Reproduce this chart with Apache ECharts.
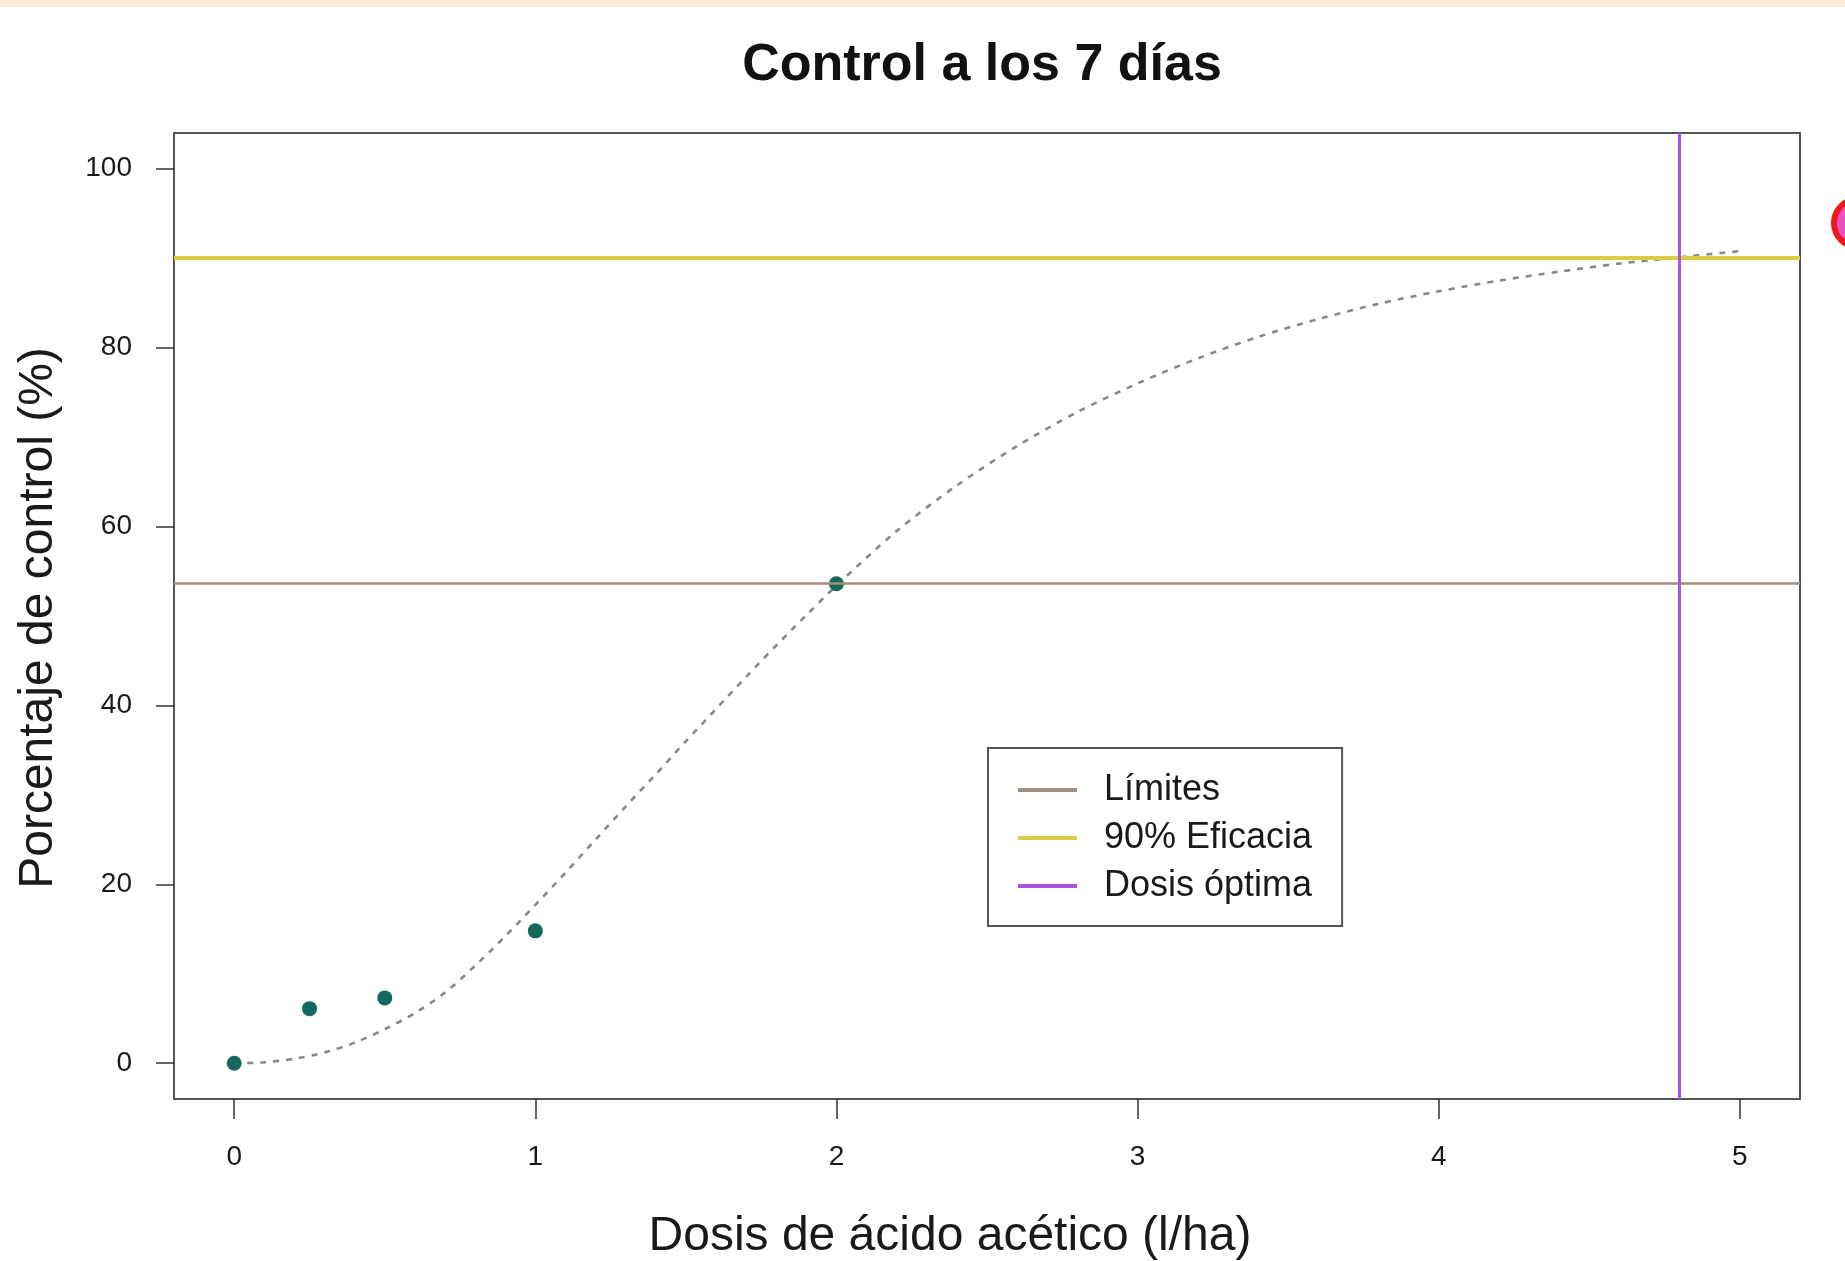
<!DOCTYPE html>
<html>
<head>
<meta charset="utf-8">
<script src="https://cdn.jsdelivr.net/npm/echarts@6/dist/echarts.min.js"></script>
<style>
html,body{margin:0;padding:0;background:#fff;}
#chart{width:1845px;height:1261px;}
</style>
</head>
<body>
<div id="chart"></div>
<script>
// ---- data ----
const obsDose = [0, 0.25, 0.5, 1, 2];
const obsPct = [0, 6.1, 7.3, 14.8, 53.6];

const curveDose = [0, 0.1, 0.2, 0.3, 0.4, 0.5, 0.6, 0.7, 0.8, 0.9, 1.0, 1.1, 1.2, 1.3, 1.4, 1.5, 1.6, 1.7, 1.8, 1.9, 2.0, 2.2, 2.4, 2.6, 2.8, 3.0, 3.2, 3.4, 3.6, 3.8, 4.0, 4.2, 4.4, 4.6, 4.8, 5.0];
const curvePct = [0, 0.1, 0.5, 1.2, 2.3, 3.8, 5.6, 7.9, 10.9, 14.2, 17.7, 21.3, 25.0, 28.7, 32.3, 36.0, 39.6, 43.2, 46.7, 50.1, 53.4, 59.5, 64.6, 69.0, 72.8, 76.0, 78.8, 81.2, 83.2, 84.9, 86.3, 87.5, 88.5, 89.4, 90.1, 90.8];

const limiteValue = 53.7;
const eficaciaValue = 90;
const dosisOptima = 4.8;

const xTicks = [0, 1, 2, 3, 4, 5];
const yTicks = [0, 20, 40, 60, 80, 100];

const legendNames = ['Límites', '90% Eficacia', 'Dosis óptima'];

const titleText = 'Control a los 7 días';
const xTitle = 'Dosis de ácido acético (l/ha)';
const yTitle = 'Porcentaje de control (%)';

// ---- chart ----
const FONT = '"Liberation Sans", Arial, Helvetica, sans-serif';
const chart = echarts.init(document.getElementById('chart'), null, {renderer: 'canvas'});

const curveData = curveDose.map((d, i) => [d, curvePct[i]]);
const obsData = obsDose.map((d, i) => [d, obsPct[i]]);

function refLine(name, color, width, spec) {
  return {
    name: name,
    type: 'line',
    data: [],
    color: color,
    itemStyle: {color: color},
    lineStyle: {color: color, width: width},
    markLine: {
      silent: true,
      symbol: ['none', 'none'],
      label: {show: false},
      animation: false,
      lineStyle: {color: color, width: width, type: 'solid', opacity: 1},
      data: [spec]
    }
  };
}

const option = {
  backgroundColor: '#ffffff',
  animation: false,
  grid: {
    left: 174, top: 133, width: 1626, height: 966,
    show: true, borderColor: '#555555', borderWidth: 2, backgroundColor: 'transparent'
  },
  xAxis: {
    type: 'value', min: -0.2, max: 5.2,
    splitLine: {show: false},
    axisLine: {show: false, onZero: false},
    axisTick: {show: true, inside: false, length: 20, customValues: xTicks, lineStyle: {color: '#333', width: 1.5}},
    axisLabel: {show: true, customValues: xTicks, margin: 44, fontSize: 28, color: '#1a1a1a', fontFamily: FONT},
  },
  yAxis: {
    type: 'value', min: -4, max: 104,
    splitLine: {show: false},
    axisLine: {show: false, onZero: false},
    axisTick: {show: true, inside: false, length: 18, customValues: yTicks, lineStyle: {color: '#333', width: 1.5}},
    axisLabel: {show: true, customValues: yTicks, margin: 42, fontSize: 28, color: '#1a1a1a', fontFamily: FONT},
  },
  legend: {
    data: legendNames,
    orient: 'vertical',
    left: 988, top: 748,
    backgroundColor: '#ffffff',
    borderColor: '#555555', borderWidth: 2,
    padding: [22, 30, 20, 30],
    icon: 'rect',
    itemWidth: 59, itemHeight: 4,
    itemGap: 8,
    selectedMode: false,
    textStyle: {fontSize: 36, lineHeight: 40, color: '#1a1a1a', fontFamily: FONT, padding: [0, 0, 0, 22]}
  },
  series: [
    refLine('Límites', '#a58d7a', 2.5, {yAxis: limiteValue}),
    refLine('90% Eficacia', '#dccb44', 4, {yAxis: eficaciaValue}),
    refLine('Dosis óptima', '#a855e0', 3, {xAxis: dosisOptima}),
    {
      name: 'curve', type: 'line', data: curveData, smooth: 0.3,
      showSymbol: false, z: 3,
      lineStyle: {color: '#848a89', width: 2.6, type: [6, 7]}
    },
    {
      name: 'obs', type: 'scatter', data: obsData, z: 4,
      symbol: 'circle', symbolSize: 15,
      itemStyle: {color: '#14695e', opacity: 1}
    }
  ],
  graphic: [
    {type: 'rect', shape: {x: 0, y: 0, width: 1845, height: 7}, style: {fill: '#fcebd9'}, z: 100},
    {type: 'circle', shape: {cx: 1858, cy: 223, r: 24}, style: {fill: '#e850c8', stroke: '#f01818', lineWidth: 6}, z: 100},
    {type: 'text', x: 982, y: 66, style: {text: titleText, font: 'bold 52px ' + FONT, fill: '#111', align: 'center', verticalAlign: 'middle'}, z: 100},
    {type: 'text', x: 950, y: 1237, style: {text: xTitle, font: '48px ' + FONT, fill: '#1a1a1a', align: 'center', verticalAlign: 'middle'}, z: 100},
    {type: 'text', x: 39, y: 618, rotation: Math.PI / 2, style: {text: yTitle, font: '48px ' + FONT, fill: '#1a1a1a', align: 'center', verticalAlign: 'middle'}, z: 100}
  ]
};

chart.setOption(option);
</script>
</body>
</html>
